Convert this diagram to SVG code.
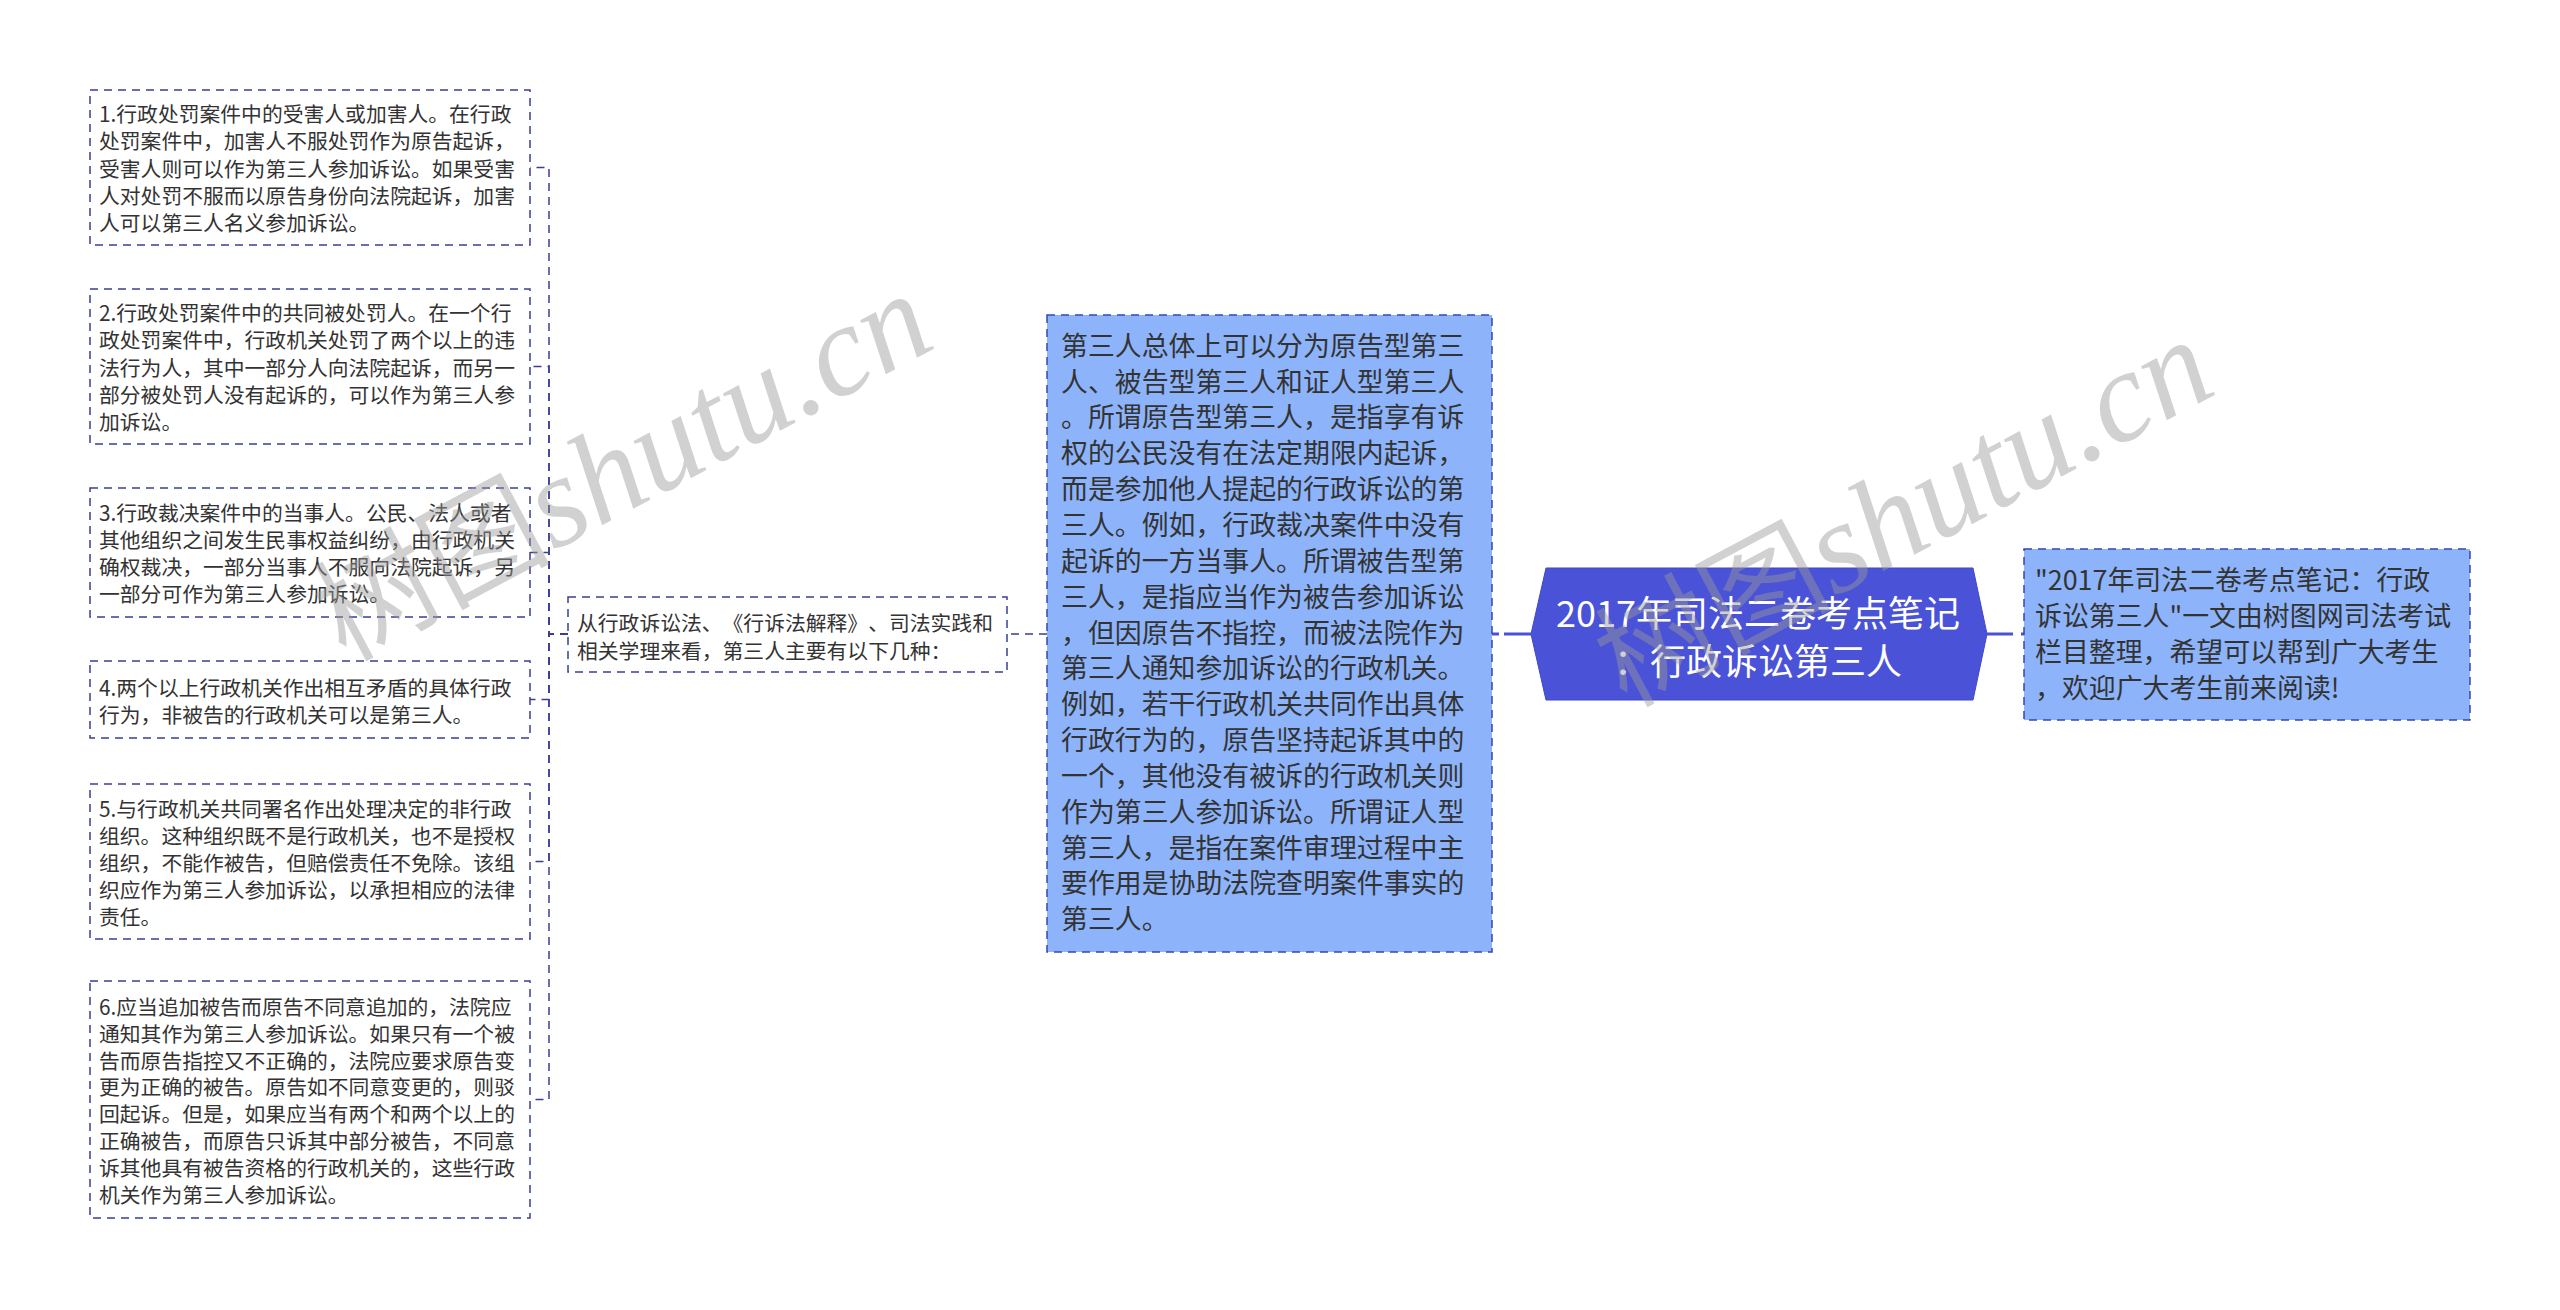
<svg xmlns="http://www.w3.org/2000/svg" width="2560" height="1310" viewBox="0 0 2560 1310">
<style>
.bg{fill:#ffffff}
.box{fill:#ffffff;stroke:#3b3f94;stroke-width:1.5;stroke-dasharray:8 6}
.bbox{fill:#8db4fa;stroke:#3447b0;stroke-width:1.5;stroke-dasharray:8 6}
.hex{fill:#4a52d8;stroke:#3f47c8;stroke-width:1}
.conn{fill:none;stroke:#3b3f94;stroke-width:1.5;stroke-dasharray:8 6}
.thick{fill:none;stroke:#4a52d8;stroke-width:3}
text{text-spacing-trim:space-all}
.t{font-family:'Noto Sans CJK SC','Noto Sans',sans-serif;fill:#333333}
.lt{font-size:20.8px}
.ct{font-size:26.9px}
.rt{font-size:26.9px}
.ht{font-family:'Noto Sans CJK SC','Noto Sans',sans-serif;font-size:36px;fill:#ffffff;text-anchor:middle}
.wm{font-family:'Noto Sans CJK SC',sans-serif;font-size:118px;fill:#9a9a9a;fill-opacity:0.45}
.wl{font-family:'Liberation Serif',serif;font-style:italic;font-size:130px}
</style>
<rect class="bg" x="0" y="0" width="2560" height="1310"/>

<g id="connectors">
  <path class="conn" d="M568 634 H549 V167.5 H530"/>
  <path class="conn" d="M568 634 H549 V366.5 H530"/>
  <path class="conn" d="M568 634 H549 V552.5 H530"/>
  <path class="conn" d="M568 634 H549 V699.5 H530"/>
  <path class="conn" d="M568 634 H549 V861.5 H530"/>
  <path class="conn" d="M568 634 H549 V1099.5 H530"/>
  <path class="conn" d="M1047 634 H1007"/>
  <path class="thick" d="M1531 634 H1492" stroke-dasharray="27 5"/>
  <path class="thick" d="M1987 634 H2024" stroke-dasharray="26 8"/>
</g>

<g id="item1">
  <rect class="box" x="90" y="90" width="440" height="155"/>
  <text class="t lt"><tspan x="99" y="122.3">1.行政处罚案件中的受害人或加害人。在行政</tspan><tspan x="99" y="149.4">处罚案件中，加害人不服处罚作为原告起诉，</tspan><tspan x="99" y="176.5">受害人则可以作为第三人参加诉讼。如果受害</tspan><tspan x="99" y="203.6">人对处罚不服而以原告身份向法院起诉，加害</tspan><tspan x="99" y="230.7">人可以第三人名义参加诉讼。</tspan></text>
</g>

<g id="item2">
  <rect class="box" x="90" y="289" width="440" height="155"/>
  <text class="t lt"><tspan x="99" y="321.3">2.行政处罚案件中的共同被处罚人。在一个行</tspan><tspan x="99" y="348.4">政处罚案件中，行政机关处罚了两个以上的违</tspan><tspan x="99" y="375.5">法行为人，其中一部分人向法院起诉，而另一</tspan><tspan x="99" y="402.6">部分被处罚人没有起诉的，可以作为第三人参</tspan><tspan x="99" y="429.7">加诉讼。</tspan></text>
</g>

<g id="item3">
  <rect class="box" x="90" y="488" width="440" height="129"/>
  <text class="t lt"><tspan x="99" y="521">3.行政裁决案件中的当事人。公民、法人或者</tspan><tspan x="99" y="548">其他组织之间发生民事权益纠纷，由行政机关</tspan><tspan x="99" y="575">确权裁决，一部分当事人不服向法院起诉，另</tspan><tspan x="99" y="602">一部分可作为第三人参加诉讼。</tspan></text>
</g>

<g id="item4">
  <rect class="box" x="90" y="661" width="440" height="77"/>
  <text class="t lt"><tspan x="99" y="695.5">4.两个以上行政机关作出相互矛盾的具体行政</tspan><tspan x="99" y="722.6">行为，非被告的行政机关可以是第三人。</tspan></text>
</g>

<g id="item5">
  <rect class="box" x="90" y="784" width="440" height="155"/>
  <text class="t lt"><tspan x="99" y="816.8">5.与行政机关共同署名作出处理决定的非行政</tspan><tspan x="99" y="843.9">组织。这种组织既不是行政机关，也不是授权</tspan><tspan x="99" y="871">组织，不能作被告，但赔偿责任不免除。该组</tspan><tspan x="99" y="898.1">织应作为第三人参加诉讼，以承担相应的法律</tspan><tspan x="99" y="925.2">责任。</tspan></text>
</g>

<g id="item6">
  <rect class="box" x="90" y="981" width="440" height="237"/>
  <text class="t lt"><tspan x="99" y="1015">6.应当追加被告而原告不同意追加的，法院应</tspan><tspan x="99" y="1041.8">通知其作为第三人参加诉讼。如果只有一个被</tspan><tspan x="99" y="1068.6">告而原告指控又不正确的，法院应要求原告变</tspan><tspan x="99" y="1095.4">更为正确的被告。原告如不同意变更的，则驳</tspan><tspan x="99" y="1122.2">回起诉。但是，如果应当有两个和两个以上的</tspan><tspan x="99" y="1149">正确被告，而原告只诉其中部分被告，不同意</tspan><tspan x="99" y="1175.8">诉其他具有被告资格的行政机关的，这些行政</tspan><tspan x="99" y="1202.6">机关作为第三人参加诉讼。</tspan></text>
</g>

<g id="intro">
  <rect class="box" x="568" y="597" width="439" height="75"/>
  <text class="t lt"><tspan x="577" y="631">从行政诉讼法、《行诉法解释》、司法实践和</tspan><tspan x="577" y="659">相关学理来看，第三人主要有以下几种：</tspan></text>
</g>

<g id="summary">
  <rect class="bbox" x="1047" y="315" width="445" height="637"/>
  <text class="t ct"><tspan x="1061" y="355.7">第三人总体上可以分为原告型第三</tspan><tspan x="1061" y="391.55">人、被告型第三人和证人型第三人</tspan><tspan x="1061" y="427.4">。所谓原告型第三人，是指享有诉</tspan><tspan x="1061" y="463.25">权的公民没有在法定期限内起诉，</tspan><tspan x="1061" y="499.1">而是参加他人提起的行政诉讼的第</tspan><tspan x="1061" y="534.95">三人。例如，行政裁决案件中没有</tspan><tspan x="1061" y="570.8">起诉的一方当事人。所谓被告型第</tspan><tspan x="1061" y="606.65">三人，是指应当作为被告参加诉讼</tspan><tspan x="1061" y="642.5">，但因原告不指控，而被法院作为</tspan><tspan x="1061" y="678.35">第三人通知参加诉讼的行政机关。</tspan><tspan x="1061" y="714.2">例如，若干行政机关共同作出具体</tspan><tspan x="1061" y="750.05">行政行为的，原告坚持起诉其中的</tspan><tspan x="1061" y="785.9">一个，其他没有被诉的行政机关则</tspan><tspan x="1061" y="821.75">作为第三人参加诉讼。所谓证人型</tspan><tspan x="1061" y="857.6">第三人，是指在案件审理过程中主</tspan><tspan x="1061" y="893.45">要作用是协助法院查明案件事实的</tspan><tspan x="1061" y="929.3">第三人。</tspan></text>
</g>

<g id="root">
  <polygon class="hex" points="1531,634 1546,568 1973,568 1987,634 1973,700 1546,700"/>
  <text class="ht"><tspan x="1758" y="627">2017年司法二卷考点笔记</tspan><tspan x="1758" y="674.5">：行政诉讼第三人</tspan></text>
</g>

<g id="source">
  <rect class="bbox" x="2024" y="549" width="446" height="171"/>
  <text class="t rt"><tspan x="2035" y="590.4">"2017年司法二卷考点笔记：行政</tspan><tspan x="2035" y="626.3">诉讼第三人"一文由树图网司法考试</tspan><tspan x="2035" y="662.1">栏目整理，希望可以帮到广大考生</tspan><tspan x="2035" y="698">，欢迎广大考生前来阅读!</tspan></text>
</g>

<g id="watermark">
  <text class="wm" x="345" y="662" transform="rotate(-28 345 662)">树图<tspan class="wl">shutu.cn</tspan></text>
  <text class="wm" x="1626" y="708" transform="rotate(-28 1626 708)">树图<tspan class="wl">shutu.cn</tspan></text>
</g>
</svg>
